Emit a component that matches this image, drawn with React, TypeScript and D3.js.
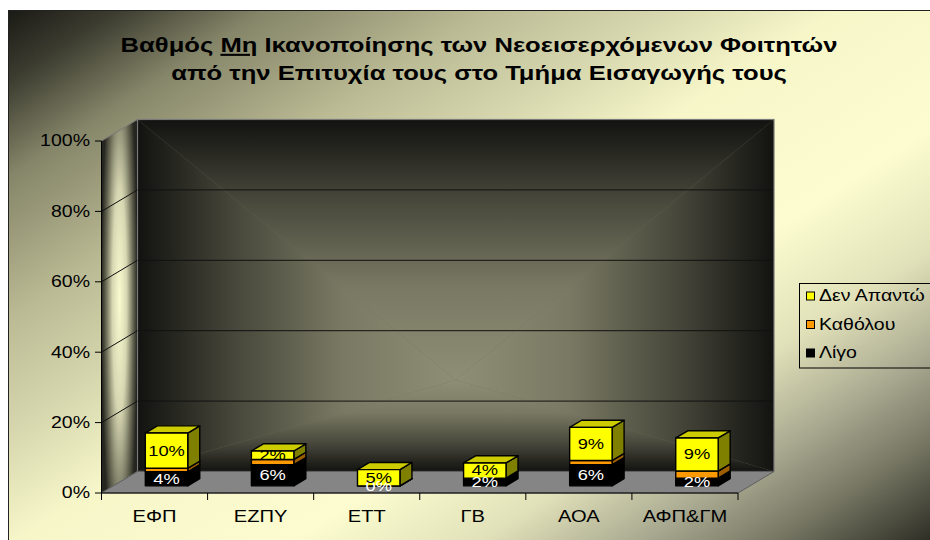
import React from "react";
import * as d3 from "d3";

// values (percent)
const categories = ["ΕΦΠ", "ΕΖΠΥ", "ΕΤΤ", "ΓΒ", "ΑΟΑ", "ΑΦΠ&ΓΜ"];
const ligo = [4, 6, 0, 2.2, 6, 2.2];
const katholou = [1, 1.5, 0, 0, 1.2, 2];
const denApanto = [10, 2.4, 4.6, 4.3, 9.4, 9.4];
const seriesNames = ["Λίγο", "Καθόλου", "Δεν Απαντώ"];
const yTicks = [0, 20, 40, 60, 80, 100];

const W = 930;
const H = 540;
const SX = 1.22; // the original text is stretched sideways
const font = "'Liberation Sans', Arial, sans-serif";

// front plane of the plot and the 3D depth offset
const px0 = 101.5;
const px1 = 738;
const py0 = 493;
const py1 = 141;
const DX = 36;
const DY = -21.5;

const styles = [
  { front: "#000000", top: "#000000", side: "#000000", text: "#ffffff" },
  { front: "#ff9900", top: "#cc7a00", side: "#9c5e00", text: null },
  { front: "#ffff00", top: "#cccc00", side: "#808000", text: "#000000" },
];

const Txt = ({ x, y, size, anchor = "middle", weight = "normal", fill = "#000", base, children }: any) => (
  <text
    transform={`translate(${x},${y}) scale(${SX},1)`}
    fontFamily={font}
    fontSize={size}
    fontWeight={weight}
    textAnchor={anchor}
    dominantBaseline={base}
    fill={fill}
  >
    {children}
  </text>
);

export default function App() {
  const rows = categories.map((c, i) => ({
    cat: c,
    [seriesNames[0]]: ligo[i],
    [seriesNames[1]]: katholou[i],
    [seriesNames[2]]: denApanto[i],
  }));
  const stacked = d3.stack<any>().keys(seriesNames)(rows);

  const x = d3.scaleBand().domain(categories).range([px0, px1]);
  const y = d3.scaleLinear().domain([0, 100]).range([py0, py1]);
  const bw = x.bandwidth() / 2.5;
  const bdx = DX / 3;
  const bdy = DY / 3;

  // back wall box
  const bx0 = px0 + DX;
  const bx1 = px1 + DX;
  const by0 = py1 + DY;
  const by1 = py0 + DY;
  const cx = (bx0 + bx1) / 2;
  const cy = 380;

  const pct = d3.format(".0%");

  const wallStops = (
    <>
      <stop offset="0" stopColor="#121210" />
      <stop offset="0.3" stopColor="#46463a" />
      <stop offset="0.65" stopColor="#7a7a64" />
      <stop offset="1" stopColor="#8e8e76" />
    </>
  );

  const legendItems = [...seriesNames].reverse();

  return (
    <svg width={W} height={H} style={{ position: "absolute", left: 0, top: 0 }}>
      <defs>
        <linearGradient id="bg" gradientUnits="userSpaceOnUse" x1={8} y1={10} x2={551} y2={850}>
          <stop offset="0" stopColor="#1a1a15" />
          <stop offset="0.06" stopColor="#3c3c30" />
          <stop offset="0.14" stopColor="#858569" />
          <stop offset="0.26" stopColor="#baba94" />
          <stop offset="0.35" stopColor="#d5d5ad" />
          <stop offset="0.45" stopColor="#f6f6c9" />
          <stop offset="0.6" stopColor="#fcfcd0" />
          <stop offset="0.7" stopColor="#e2e2ba" />
          <stop offset="0.79" stopColor="#a8a890" />
          <stop offset="0.86" stopColor="#777764" />
          <stop offset="0.95" stopColor="#2a2a22" />
          <stop offset="1" stopColor="#1a1a16" />
        </linearGradient>
        <linearGradient id="wt" gradientUnits="userSpaceOnUse" x1={0} y1={by0} x2={0} y2={cy}>{wallStops}</linearGradient>
        <linearGradient id="wb" gradientUnits="userSpaceOnUse" x1={0} y1={by1} x2={0} y2={cy}>{wallStops}</linearGradient>
        <linearGradient id="wl" gradientUnits="userSpaceOnUse" x1={bx0} y1={0} x2={cx} y2={0}>{wallStops}</linearGradient>
        <linearGradient id="wr" gradientUnits="userSpaceOnUse" x1={bx1} y1={0} x2={cx} y2={0}>{wallStops}</linearGradient>
        <radialGradient id="side" gradientUnits="userSpaceOnUse" cx={0} cy={0} r={1}
          gradientTransform={`translate(${px0 + DX / 2},300) scale(18,280)`}>
          <stop offset="0" stopColor="#fbfbd0" />
          <stop offset="0.4" stopColor="#d6d6b2" />
          <stop offset="0.75" stopColor="#6a6a56" />
          <stop offset="1" stopColor="#262620" />
        </radialGradient>
      </defs>

      <rect x={0} y={0} width={W} height={H} fill="#fff" />
      <rect x={8.5} y={10.5} width={1000} height={700} fill="url(#bg)" stroke="#222" />

      {/* title */}
      <Txt x={479} y={52} size={21} weight="bold">
        Βαθμός <tspan textDecoration="underline">Μη</tspan> Ικανοποίησης των Νεοεισερχόμενων Φοιτητών
      </Txt>
      <Txt x={479} y={80} size={21} weight="bold">
        από την Επιτυχία τους στο Τμήμα Εισαγωγής τους
      </Txt>

      {/* back wall */}
      <rect x={bx0} y={by0} width={bx1 - bx0} height={by1 - by0} fill="#6a6a58" />
      <path d={`M${bx0},${by0}L${bx1},${by0}L${cx},${cy}Z`} fill="url(#wt)" />
      <path d={`M${bx0},${by1}L${bx1},${by1}L${cx},${cy}Z`} fill="url(#wb)" />
      <path d={`M${bx0},${by0}L${bx0},${by1}L${cx},${cy}Z`} fill="url(#wl)" />
      <path d={`M${bx1},${by0}L${bx1},${by1}L${cx},${cy}Z`} fill="url(#wr)" />
      {yTicks.filter((t) => t > 0 && t < 100).map((t) => (
        <line key={t} x1={bx0} x2={bx1} y1={y(t) + DY} y2={y(t) + DY} stroke="#111" strokeWidth={1} />
      ))}
      <rect x={bx0} y={by0} width={bx1 - bx0} height={by1 - by0} fill="none" stroke="#7a7a7a" strokeWidth={1.2} />

      {/* left wall */}
      <path d={`M${px0},${py0}L${px0},${py1}L${bx0},${by0}L${bx0},${by1}Z`} fill="url(#side)" stroke="#7a7a7a" strokeWidth={1} />
      {yTicks.filter((t) => t > 0 && t < 100).map((t) => (
        <line key={t} x1={px0} y1={y(t)} x2={bx0} y2={y(t) + DY} stroke="#111" strokeWidth={1} />
      ))}

      {/* floor */}
      <path d={`M${px0},${py0}L${px1},${py0}L${bx1},${by1}L${bx0},${by1}Z`} fill="#858585" stroke="#5e5e5e" strokeWidth={1} />

      {/* bars */}
      {stacked.map((s, si) =>
        s.map((d, j) => {
          const st = styles[si];
          const x0 = (x(categories[j]) as number) + (x.bandwidth() - bw) / 2 + bdx;
          const yb = y(d[0]) + bdy;
          const yt = y(d[1]) + bdy;
          return (
            <g key={`${si}-${j}`} stroke="#000" strokeWidth={1.4} strokeLinejoin="round">
              <path d={`M${x0 + bw},${yb}L${x0 + bw + bdx},${yb + bdy}L${x0 + bw + bdx},${yt + bdy}L${x0 + bw},${yt}Z`} fill={st.side} />
              <path d={`M${x0},${yt}L${x0 + bw},${yt}L${x0 + bw + bdx},${yt + bdy}L${x0 + bdx},${yt + bdy}Z`} fill={st.top} />
              <rect x={x0} y={yt} width={bw} height={yb - yt} fill={st.front} />
            </g>
          );
        })
      )}

      {/* value labels */}
      {stacked.map((s, si) =>
        styles[si].text
          ? s.map((d, j) => {
              const x0 = (x(categories[j]) as number) + (x.bandwidth() - bw) / 2 + bdx;
              const ym = (y(d[0]) + y(d[1])) / 2 + bdy;
              return (
                <Txt key={`l${si}-${j}`} x={x0 + bw / 2} y={ym} size={15} fill={styles[si].text} base="central">
                  {pct((d[1] - d[0]) / 100)}
                </Txt>
              );
            })
          : null
      )}

      {/* value axis */}
      <line x1={px0} x2={px0} y1={py1} y2={py0} stroke="#000" />
      {yTicks.map((t) => (
        <g key={t}>
          <line x1={95} x2={px0} y1={y(t)} y2={y(t)} stroke="#000" />
          <Txt x={90} y={y(t)} size={16} anchor="end" base="central">{pct(t / 100)}</Txt>
        </g>
      ))}

      {/* category axis */}
      <line x1={px0} x2={px1} y1={py0} y2={py0} stroke="#000" />
      {[...categories.map((c) => x(c) as number), px1].map((v, i) => (
        <line key={i} x1={v} x2={v} y1={py0} y2={py0 + 7} stroke="#000" />
      ))}
      {categories.map((c) => (
        <Txt key={c} x={(x(c) as number) + x.bandwidth() / 2} y={522} size={16.5}>{c}</Txt>
      ))}

      {/* legend */}
      <rect x={799.5} y={283.5} width={200} height={84.5} fill="none" stroke="#000" />
      {legendItems.map((name, i) => {
        const st = styles[seriesNames.indexOf(name)];
        const ly = 296 + i * 28.5;
        return (
          <g key={name}>
            <rect x={806.5} y={ly - 4} width={8} height={8} fill={st.front} stroke="#000" />
            <Txt x={819} y={ly} size={16} anchor="start" base="central">{name}</Txt>
          </g>
        );
      })}
    </svg>
  );
}
